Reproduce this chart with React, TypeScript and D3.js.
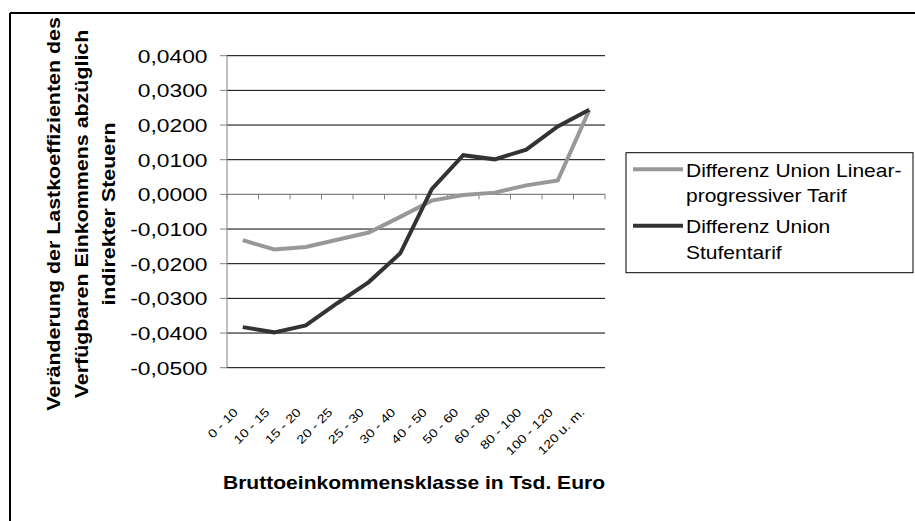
import React from "react";
import * as d3 from "d3";

const categories = ["0 - 10", "10 - 15", "15 - 20", "20 - 25", "25 - 30", "30 - 40", "40 - 50", "50 - 60", "60 - 80", "80 - 100", "100 - 120", "120 u. m."];
const linearProgressiv = [-0.0132, -0.0159, -0.0152, -0.0131, -0.0110, -0.0065, -0.0018, -0.0002, 0.0005, 0.0026, 0.0040, 0.0243];
const stufentarif = [-0.0383, -0.0398, -0.0378, -0.0314, -0.0253, -0.0170, 0.0015, 0.0113, 0.0101, 0.0129, 0.0196, 0.0244];
const yTicks = [0.04, 0.03, 0.02, 0.01, 0, -0.01, -0.02, -0.03, -0.04, -0.05];
const seriesNames = ["Differenz Union Linear-|progressiver Tarif", "Differenz Union|Stufentarif"];
const yTitleLines = ["Veränderung der Lastkoeffizienten des", "Verfügbaren Einkommens abzüglich", "indirekter Steuern"];
const xTitle = "Bruttoeinkommensklasse in Tsd. Euro";

const FONT = "'Liberation Sans', Arial, sans-serif";
const W = 915, H = 521;
const plot = { left: 227, right: 605, top: 55.7, bottom: 367.7 };
const SX = 1.2;

const locale = d3.formatLocale({ decimal: ",", thousands: ".", grouping: [3], currency: ["", "€"], minus: "-" });
const fmt = locale.format(".4f");

function T({ x, y, rot = 0, sx = SX, size, weight = "normal", anchor = "start", children }: any) {
  return (
    <text
      transform={`translate(${x},${y}) rotate(${rot}) scale(${sx},1)`}
      fontSize={size}
      fontWeight={weight}
      textAnchor={anchor}
      fontFamily={FONT}
      fill="#000"
    >
      {children}
    </text>
  );
}

export default function App() {
  const x = d3.scaleBand<string>().domain(categories).range([plot.left, plot.right]).padding(0);
  const y = d3.scaleLinear().domain([-0.05, 0.04]).range([plot.bottom, plot.top]);
  const cx = (c: string) => (x(c) as number) + x.bandwidth() / 2;
  const line = d3
    .line<number>()
    .x((_, i) => cx(categories[i]))
    .y((d) => y(d));
  const colors = ["#989898", "#333333"];
  const series = [linearProgressiv, stufentarif];
  const boundaries = d3.range(categories.length + 1).map((k) => plot.left + k * x.bandwidth());

  return (
    <svg width={W} height={H} style={{ position: "absolute", left: 0, top: 0, background: "#fff" }}>
      <rect x={0} y={0} width={W} height={H} fill="#fff" />
      {/* outer border */}
      <line x1={10} y1={13} x2={W} y2={13} stroke="#000" strokeWidth={2} />
      <line x1={10} y1={13} x2={10} y2={H} stroke="#000" strokeWidth={2} />

      {/* gridlines */}
      {yTicks.map((t) => (
        <line key={"g" + t} x1={plot.left} x2={plot.right} y1={y(t)} y2={y(t)} stroke={t === 0 ? "#808080" : "#000"} strokeWidth={1} />
      ))}
      {/* value axis */}
      <line x1={plot.left} x2={plot.left} y1={plot.top} y2={plot.bottom} stroke="#808080" strokeWidth={1} />
      {yTicks.map((t) => (
        <line key={"t" + t} x1={plot.left - 7} x2={plot.left} y1={y(t)} y2={y(t)} stroke="#808080" strokeWidth={1} />
      ))}
      {yTicks.map((t) => (
        <T key={"l" + t} x={207.5} y={y(t) + 7} size={19} anchor="end">
          {fmt(t)}
        </T>
      ))}
      {/* category axis at zero */}
      <line x1={plot.left} x2={plot.right} y1={y(0)} y2={y(0)} stroke="#808080" strokeWidth={1} />
      {boundaries.map((b, i) => (
        <line key={"b" + i} x1={b} x2={b} y1={y(0)} y2={y(0) + 5} stroke="#808080" strokeWidth={1} />
      ))}
      {categories.map((c) => (
        <T key={"c" + c} x={cx(c) - 4} y={413} rot={-45} size={12} anchor="end">
          {c}
        </T>
      ))}

      {/* series */}
      {series.map((s, i) => (
        <path key={"s" + i} d={line(s) as string} fill="none" stroke={colors[i]} strokeWidth={4} strokeLinejoin="miter" />
      ))}

      {/* axis titles */}
      <T x={414} y={489} size={18} weight="bold" anchor="middle" sx={1.17}>
        {xTitle}
      </T>
      {yTitleLines.map((l, i) => (
        <T key={"yt" + i} x={60 + i * 27.5} y={214} rot={-90} size={18} weight="bold" anchor="middle" sx={1.19}>
          {l}
        </T>
      ))}

      {/* legend */}
      <rect x={626} y={152.7} width={287} height={120} fill="#fff" stroke="#000" strokeWidth={1} />
      {seriesNames.map((name, i) => {
        const ly = i === 0 ? 169.3 : 225.7;
        const lines = name.split("|");
        return (
          <g key={"lg" + i}>
            <line x1={633} x2={683} y1={ly} y2={ly} stroke={colors[i]} strokeWidth={4} />
            {lines.map((t, j) => (
              <T key={j} x={686} y={ly + 7.5 + j * 25.5} size={17.5} anchor="start">
                {t}
              </T>
            ))}
          </g>
        );
      })}
    </svg>
  );
}
